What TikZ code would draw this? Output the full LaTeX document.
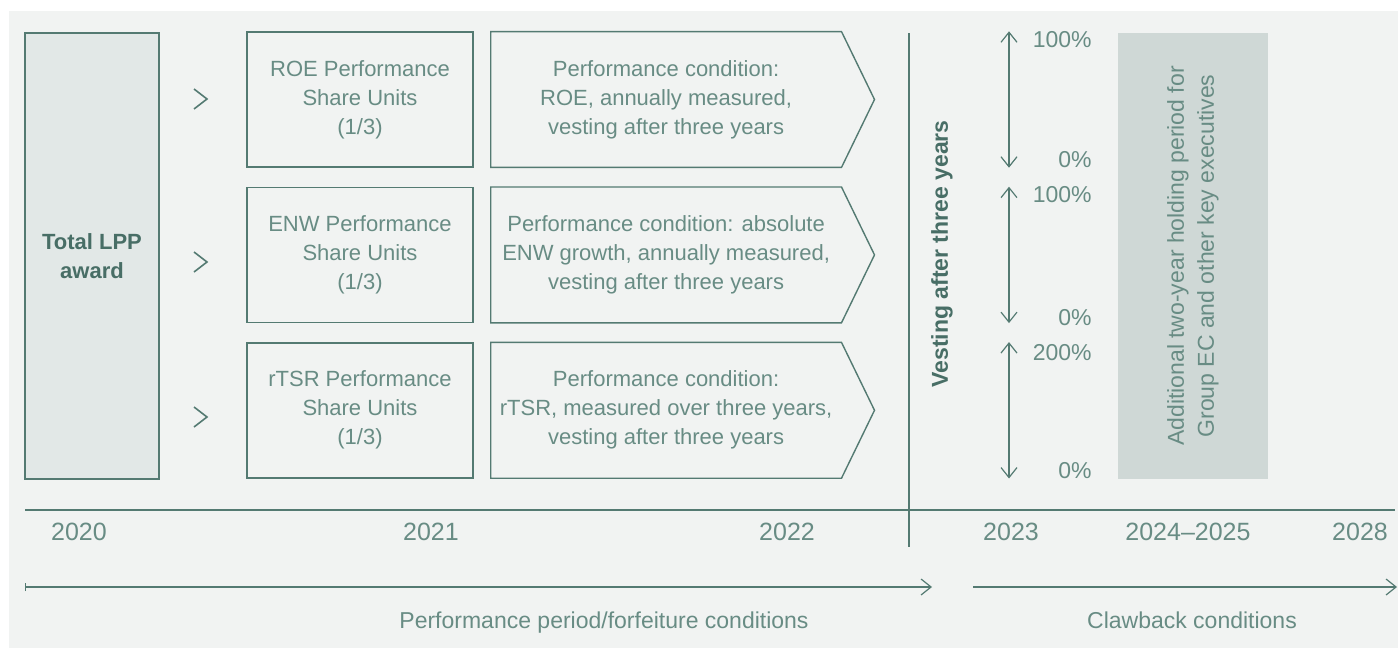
\documentclass[tikz,border=0pt]{standalone}
\usepackage{fontspec}
\setmainfont{Liberation Sans}
\usepackage{xcolor}
\usetikzlibrary{arrows.meta, positioning}
\definecolor{lineteal}{RGB}{84,122,114}
\definecolor{textteal}{RGB}{104,140,132}
\definecolor{boldteal}{RGB}{72,110,102}
\definecolor{panelgray}{RGB}{241,243,242}
\definecolor{awardfill}{RGB}{226,232,231}
\definecolor{holdfill}{RGB}{207,216,214}

\begin{document}
\begin{tikzpicture}[
    x=0.5pt, y=-0.5pt,
    node distance=9.5pt,
    unitbox/.style={rectangle, draw=lineteal, line width=0.7pt, minimum width=113pt, minimum height=67.5pt, align=center, text=textteal, font=\fontsize{11}{14.5}\selectfont},
    condbox/.style={rectangle, minimum width=175pt, minimum height=67.5pt, inner sep=0pt, align=center, text=textteal, font=\fontsize{11}{14.5}\selectfont},
    outline/.style={draw=lineteal, line width=0.7pt},
    year/.style={anchor=base, text=textteal, font=\fontsize{12.5}{15}\selectfont},
    pct/.style={anchor=base east, inner sep=0pt, text=textteal, font=\fontsize{11.5}{14}\selectfont},
    caption/.style={anchor=base, text=textteal, font=\fontsize{11.5}{14}\selectfont},
    pctrange/.style={lineteal, line width=0.6pt, {Straight Barb[length=5pt,width=8pt]}-{Straight Barb[length=5pt,width=8pt]}},
    perfline/.style={lineteal, line width=0.6pt, {Bar[width=4pt]}-{Straight Barb[length=5pt,width=8pt]}},
    clawline/.style={lineteal, line width=0.6pt, -{Straight Barb[length=5pt,width=8pt]}}
]

\useasboundingbox (0,0) rectangle (1398,648);
\fill[panelgray] (9,11) rectangle (1398,648);

\node (award) [rectangle, draw=lineteal, line width=0.7pt, fill=awardfill, minimum width=67pt, minimum height=223pt, align=center, text=boldteal, font=\fontsize{11}{14.5}\selectfont\bfseries] at (92,256) {Total LPP\\award};

\node (roe) [unitbox] at (360,99.5) {ROE Performance\\Share Units\\(1/3)};
\node (enw) [unitbox, below=of roe] {ENW Performance\\Share Units\\(1/3)};
\node (rtsr) [unitbox, below=of enw] {rTSR Performance\\Share Units\\(1/3)};

\node (roecond) [condbox, right=8.5pt of roe] {Performance condition:\\ROE, annually measured,\\vesting after three years};
\node (enwcond) [condbox, right=8.5pt of enw] {Performance condition: absolute\\ENW growth, annually measured,\\vesting after three years};
\node (rtsrcond) [condbox, right=8.5pt of rtsr] {Performance condition:\\rTSR, measured over three years,\\vesting after three years};
\foreach \c in {roecond, enwcond, rtsrcond}
    \draw[outline] (\c.north west) -- (\c.north east) -- ([xshift=16.5pt]\c.east) -- (\c.south east) -- (\c.south west) -- cycle;

% chevrons between award and units
\foreach \y in {99,262,417}
    \draw[lineteal, line width=0.8pt] (194,\y-10) -- (207,\y) -- (194,\y+10);

\coordinate (vtop) at (909,33);
\coordinate (vbot) at (909,547);
\draw[lineteal, line width=0.7pt] (vtop) -- (vbot);
\coordinate (axisl) at (25,510);
\coordinate (axisr) at (1395,510);
\draw[lineteal, line width=0.7pt] (axisl) -- (axisr);

\node (vesting) [rotate=90, text=boldteal, font=\fontsize{11.5}{14}\selectfont\bfseries] at (942,254) {Vesting after three years};

\coordinate (rng) at (1009,0);
\draw[pctrange] (roe.north -| rng) -- (roe.south -| rng);
\draw[pctrange] (enw.north -| rng) -- (enw.south -| rng);
\draw[pctrange] (rtsr.north -| rng) -- (rtsr.south -| rng);
\node (roemax) [pct] at (1092,47) {100\%};
\node (roemin) [pct] at (1092,167) {0\%};
\node (enwmax) [pct] at (1092,202) {100\%};
\node (enwmin) [pct] at (1092,325) {0\%};
\node (rtsrmax) [pct] at (1092,360) {200\%};
\node (rtsrmin) [pct] at (1092,478) {0\%};

\node (holding) [rectangle, fill=holdfill, rotate=90, minimum width=223pt, minimum height=75pt, align=center, text=textteal, font=\fontsize{11.5}{15}\selectfont] at (1193,256) {Additional two-year holding period for\\Group EC and other key executives};

\node (y2020) [year] at (79,540) {2020};
\node (y2021) [year] at (431,540) {2021};
\node (y2022) [year] at (787,540) {2022};
\node (y2023) [year] at (1011,540) {2023};
\node (y2024) [year] at (1188,540) {2024--2025};
\node (y2028) [year] at (1360,540) {2028};

\coordinate (perfstart) at (25,587);
\coordinate (perfend) at (932,587);
\coordinate (clawstart) at (973,587);
\coordinate (clawend) at (1397,587);
\draw[perfline] (perfstart) -- (perfend);
\draw[clawline] (clawstart) -- (clawend);
\node (perflabel) [caption] at (604,628) {Performance period/forfeiture conditions};
\node (clawlabel) [caption] at (1192,628) {Clawback conditions};

\end{tikzpicture}
\end{document}
